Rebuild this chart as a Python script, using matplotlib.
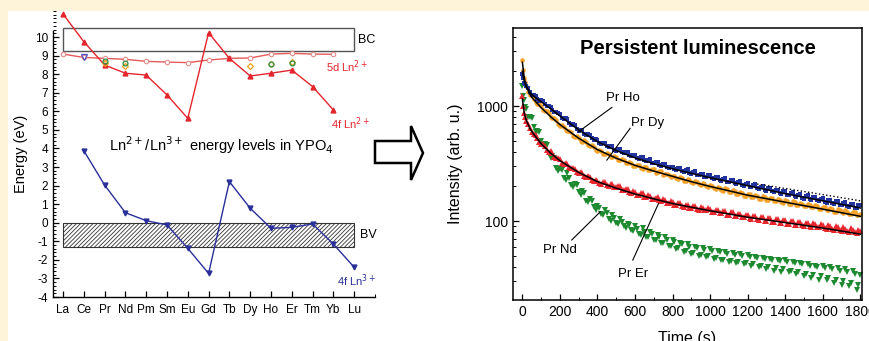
import matplotlib
matplotlib.use("Agg")
import matplotlib.pyplot as plt
from matplotlib.patches import Rectangle, Polygon
from matplotlib.ticker import MultipleLocator, FixedLocator, NullFormatter

plt.rcParams['font.family'] = ['Liberation Sans', 'DejaVu Sans']
plt.rcParams['hatch.linewidth'] = 0.6
plt.rcParams['axes.unicode_minus'] = False

## left panel: energy levels
elements = ['La', 'Ce', 'Pr', 'Nd', 'Pm', 'Sm', 'Eu', 'Gd', 'Tb', 'Dy', 'Ho', 'Er', 'Tm', 'Yb', 'Lu']
f4_ln2 = [11.24, 9.75, 8.49, 8.05, 7.95, 6.88, 5.62, 10.23, 8.85, 7.90, 8.05, 8.22, 7.33, 6.07]  # La..Yb
d5_ln2 = [9.08, 8.90, 8.85, 8.80, 8.69, 8.65, 8.62, 8.76, 8.85, 8.87, 9.08, 9.12, 9.08, 9.07]  # La..Yb
f4_ln3 = [3.88, 2.03, 0.54, 0.11, -0.12, -1.38, -2.73, 2.21, 0.78, -0.30, -0.25, -0.07, -1.15, -2.40]  # Ce..Lu
# extra experimental points near the 5d level
exp_green_x = [2, 3, 10, 11]
exp_green_y = [8.72, 8.62, 8.55, 8.62]
exp_orange_x = [2, 3, 9, 10, 11]
exp_orange_y = [8.62, 8.42, 8.45, 8.52, 8.64]
exp_ce_y = 8.92

## right panel: decay curves, two interleaved sweeps of read-off points
T = [0, 5, 10, 15, 20, 40, 60, 80, 100, 120, 140, 160, 180,
     200, 220, 240, 260, 280, 300, 320, 340, 360, 380,
     400, 420, 440, 460, 480, 500, 520, 540, 560, 580,
     600, 620, 640, 660, 680, 700, 720, 740, 760, 780,
     800, 820, 840, 860, 880, 900, 920, 940, 960, 980,
     1000, 1020, 1040, 1060, 1080, 1100, 1120, 1140, 1160, 1180,
     1200, 1220, 1240, 1260, 1280, 1300, 1320, 1340, 1360, 1380,
     1400, 1420, 1440, 1460, 1480, 1500, 1520, 1540, 1560, 1580,
     1600, 1620, 1640, 1660, 1680, 1700, 1720, 1740, 1760, 1780, 1800]
pr_ho = [1900, 1750, 1590, 1540, 1480, 1330, 1250, 1160, 1120, 1040, 1000, 915, 890,
         860, 770, 765, 690, 680, 610, 618, 560, 565, 505,
         510, 468, 482, 440, 452, 408, 425, 390, 398, 366,
         372, 348, 362, 333, 345, 318, 327, 300, 314, 290,
         298, 278, 289, 268, 281, 258, 270, 250, 258, 240,
         250, 232, 244, 225, 236, 217, 228, 210, 221, 203,
         213, 196, 208, 191, 200, 184, 195, 178, 188, 172,
         183, 167, 178, 162, 172, 157, 168, 152, 162, 149,
         158, 145, 154, 140, 150, 137, 146, 133, 141, 130, 137]
pr_dy = [2500, 2050, 1760, 1620, 1500, 1250, 1160, 1040, 995, 905, 870, 790, 750,
         675, 660, 605, 590, 540, 530, 490, 485, 448, 442,
         408, 405, 384, 380, 364, 358, 340, 338, 320, 320,
         300, 306, 286, 296, 280, 284, 268, 270, 256, 252,
         248, 236, 240, 225, 230, 218, 222, 208, 214, 200,
         204, 192, 198, 186, 192, 180, 186, 172, 180, 166,
         172, 161, 168, 156, 164, 152, 159, 149, 155, 146,
         151, 142, 148, 139, 145, 136, 140, 132, 137, 128,
         133, 124, 130, 121, 127, 119, 124, 115, 120, 112, 116]
pr_er = [1220, 1010, 870, 810, 740, 650, 570, 530, 465, 448, 402, 388, 350,
         345, 315, 312, 288, 286, 264, 262, 242, 240, 225,
         224, 211, 219, 203, 209, 196, 202, 186, 190, 177,
         180, 168, 174, 162, 166, 156, 161, 149, 153, 145,
         147, 137, 143, 133, 138, 130, 136, 126, 131, 124,
         128, 120, 125, 117, 122, 114, 119, 111, 116, 108,
         112, 105, 110, 103, 108, 101, 106, 99, 104, 97,
         102, 95, 100, 93, 98, 91, 96, 89, 94, 88,
         92, 86, 90, 84, 88, 82, 86, 80, 84, 79, 82]
pr_nd = [1480, 1230, 1120, 980, 940, 810, 660, 610, 500, 470, 380, 365, 290,
         285, 238, 262, 205, 208, 178, 181, 150, 155, 132,
         134, 115, 126, 104, 114, 96, 104, 90, 95, 84,
         90, 77, 87, 72, 80, 69, 76, 64, 72, 61,
         68, 57, 65, 54, 63, 52, 60, 50, 58, 49,
         57, 47, 55, 46, 54, 44, 53, 43, 52, 42,
         51, 41, 49, 40, 48, 38, 47, 37, 46, 36,
         46, 36, 44, 35, 43, 33, 42, 32, 41, 31,
         41, 31, 40, 29, 39, 28, 38, 27, 37, 25, 34]

T_b = [30, 50, 70, 90, 110, 130, 150, 170, 190, 210,
       230, 250, 270, 290, 310, 330, 350, 370, 390, 410,
       430, 450, 470, 490, 510, 530, 550, 570, 590, 610,
       630, 650, 670, 690, 710, 730, 750, 770, 790, 810,
       830, 850, 870, 890, 910, 930, 950, 970, 990, 1010,
       1030, 1050, 1070, 1090, 1110, 1130, 1150, 1170, 1190, 1210,
       1230, 1250, 1270, 1290, 1310, 1330, 1350, 1370, 1390, 1410,
       1430, 1450, 1470, 1490, 1510, 1530, 1550, 1570, 1590, 1610,
       1630, 1650, 1670, 1690, 1710, 1730, 1750, 1770, 1790]
pr_ho_b = [1430, 1250, 1220, 1110, 1100, 995, 975, 890, 870, 795,
           785, 715, 700, 630, 625, 575, 570, 525, 515, 478,
           480, 448, 450, 418, 422, 396, 398, 372, 376, 354,
           359, 338, 342, 322, 327, 308, 312, 294, 298, 281,
           287, 271, 277, 262, 267, 253, 258, 244, 250, 236,
           242, 228, 234, 220, 226, 213, 219, 206, 212, 199,
           205, 193, 199, 187, 192, 181, 186, 175, 181, 170,
           175, 165, 170, 160, 166, 155, 161, 151, 157, 147,
           153, 143, 150, 139, 145, 135, 141, 131, 138]
pr_dy_b = [1320, 1225, 1075, 1040, 925, 910, 810, 790, 695, 685,
           615, 612, 550, 550, 498, 502, 455, 456, 414, 418,
           384, 390, 360, 366, 338, 344, 320, 327, 304, 310,
           289, 296, 276, 283, 264, 270, 252, 257, 240, 246,
           230, 235, 221, 227, 213, 218, 204, 210, 197, 202,
           190, 195, 184, 189, 178, 183, 172, 177, 166, 171,
           161, 166, 157, 162, 153, 158, 149, 154, 145, 150,
           142, 146, 138, 142, 135, 138, 132, 135, 128, 132,
           125, 128, 121, 125, 118, 121, 115, 119, 112]
pr_er_b = [705, 590, 560, 485, 465, 415, 405, 360, 355, 322,
           320, 293, 292, 268, 268, 247, 248, 228, 229, 213,
           217, 204, 209, 196, 200, 187, 191, 178, 182, 170,
           174, 163, 167, 156, 160, 151, 155, 145, 148, 139,
           143, 135, 139, 131, 136, 128, 132, 124, 129, 121,
           125, 118, 122, 114, 119, 111, 115, 108, 113, 106,
           110, 104, 108, 101, 106, 99, 104, 97, 102, 95,
           101, 93, 99, 92, 97, 90, 96, 88, 94, 87,
           92, 85, 91, 84, 89, 82, 87, 80, 84]
pr_nd_b = [800, 790, 600, 600, 455, 460, 350, 350, 270, 280,
           228, 236, 196, 205, 170, 176, 146, 150, 126, 131,
           112, 118, 101, 107, 94, 99, 87, 93, 82, 86,
           76, 81, 72, 77, 68, 73, 64, 69, 61, 66,
           58, 63, 55, 60, 53, 58, 51, 56, 50, 55,
           48, 54, 46, 52, 45, 51, 44, 50, 43, 49,
           42, 48, 41, 47, 40, 46, 39, 45, 38, 44,
           37, 43, 36, 42, 35, 41, 34, 40, 33, 39,
           32, 38, 31, 37, 30, 36, 29, 35, 28]

# fitted curves (black)
fit_t = [0, 10, 20, 40, 60, 100, 150, 200, 300, 400, 500, 600, 700, 800, 900, 1000, 1200, 1400, 1600, 1800]
fit_ho = [2000, 1650, 1480, 1320, 1220, 1090, 950, 820, 620, 490, 410, 355, 315, 285, 260, 238, 203, 173, 150, 130]
fit_dy = [2400, 1750, 1500, 1260, 1140, 970, 810, 690, 525, 418, 352, 305, 272, 245, 220, 200, 168, 146, 127, 110]
fit_er = [1150, 870, 760, 640, 570, 470, 390, 335, 265, 220, 193, 172, 156, 142, 132, 123, 108, 97, 87, 77]
dot_t = [1250, 1400, 1600, 1800]
dot_i = [210, 192, 170, 150]

W, H = 869, 341
fig = plt.figure(figsize=(W / 100, H / 100), dpi=100, facecolor='#fdf4da')
fig.add_artist(Rectangle((8 / W, 0), 1, 1 - 11 / H, transform=fig.transFigure,
                         facecolor='white', edgecolor='none', zorder=-5))

red = '#e4252d'
blue = '#2a2f9a'

ax1 = fig.add_axes([53 / W, 1 - 297 / H, 322 / W, 286 / H])
ax1.patch.set_alpha(0)
ax1.set_xlim(-0.48, 15.0)
ax1.set_ylim(-4, 11.4)
for s in ['top', 'right']:
    ax1.spines[s].set_visible(False)
ax1.spines['left'].set_bounds(-4, 10.3)
ax1.spines['left'].set_linewidth(1.0)
ax1.spines['bottom'].set_linewidth(1.0)

ax1.add_patch(Rectangle((0, 9.25), 14, 1.25, fill=False, edgecolor='#555555', lw=1.0))
ax1.add_patch(Rectangle((0, -1.3), 14, 1.3, facecolor='white', edgecolor='#333333',
                        hatch='////////', lw=0.8))

ax1.plot(range(14), d5_ln2, '-', color='#e55a5a', lw=1.0, marker='o', ms=3.2,
         mfc='white', mec='#e88a8a', mew=0.8, clip_on=False)
ax1.plot(range(14), f4_ln2, '-', color=red, lw=1.0, marker='^', ms=3.5, clip_on=False)
ax1.plot(range(1, 15), f4_ln3, '-', color=blue, lw=1.0, marker='v', ms=3.5, clip_on=False)
ax1.plot([1], [exp_ce_y], 'v', ms=4.5, mfc='none', mec='#5050c0', mew=0.9)
ax1.plot(exp_orange_x, exp_orange_y, 'D', ms=3.0, mfc='none', mec='#f0a020', mew=0.9)
ax1.plot(exp_green_x, exp_green_y, 'o', ms=3.5, mfc='none', mec='#2a9040', mew=0.9)

ax1.set_xticks(range(15))
ax1.set_xticklabels(elements, fontsize=8.5)
ax1.xaxis.set_minor_locator(FixedLocator([15]))
ax1.yaxis.set_minor_locator(MultipleLocator(0.2))
ax1.set_yticks(range(-4, 11))
ax1.tick_params(axis='x', which='major', pad=5)
ax1.tick_params(axis='both', which='major', direction='in', length=4, width=0.9, labelsize=8.5)
ax1.tick_params(axis='both', which='minor', direction='in', length=2, width=0.7)
ax1.set_ylabel('Energy (eV)', fontsize=10.5, labelpad=5)

ax1.text(14.2, 9.85, 'BC', fontsize=9, va='center', ha='left')
ax1.text(14.3, -0.65, 'BV', fontsize=9, va='center', ha='left')
ax1.text(12.65, 8.4, r'5d Ln$^{2+}$', fontsize=8, color=red, va='center', ha='left')
ax1.text(12.9, 5.35, r'4f Ln$^{2+}$', fontsize=8, color=red, va='center', ha='left')
ax1.text(13.15, -3.1, r'4f Ln$^{3+}$', fontsize=8, color=blue, va='center', ha='left')
ax1.text(7.6, 4.2, r'Ln$^{2+}$/Ln$^{3+}$ energy levels in YPO$_4$', fontsize=10.5,
         va='center', ha='center')

# hollow arrow between panels (pixel coords -> figure fraction)
arrow_px = [(375, 141), (411, 141), (411, 126), (423, 153), (411, 180), (411, 163), (375, 163)]
fig.add_artist(Polygon([(x / W, 1 - y / H) for x, y in arrow_px], closed=True,
                       transform=fig.transFigure, facecolor='white', edgecolor='black', lw=1.8))

## right panel
ax2 = fig.add_axes([513 / W, 1 - 300 / H, 349 / W, 272 / H])
ax2.set_yscale('log')
ax2.set_xlim(-50, 1809)
ax2.set_ylim(20.6, 4770)
ms = 3.8
for tt, yy, yb, mk, col, size in [(T, pr_nd, pr_nd_b, 'v', '#1d8a30', ms),
                                  (T, pr_er, pr_er_b, '^', '#e8262e', ms),
                                  (T, pr_dy, pr_dy_b, 'o', '#f4a32a', ms - 0.5),
                                  (T, pr_ho, pr_ho_b, 's', '#22339e', ms - 0.7)]:
    ax2.plot(tt, yy, mk, color=col, ms=size, mew=0)
    ax2.plot(T_b, yb, mk, color=col, ms=size, mew=0)
ax2.plot(fit_t, fit_ho, '-', color='black', lw=1.1)
ax2.plot(fit_t, fit_dy, '-', color='black', lw=1.1)
ax2.plot(fit_t, fit_er, '-', color='black', lw=1.1)
ax2.plot(dot_t, dot_i, ':', color='black', lw=1.0)

ax2.set_xticks(range(0, 1801, 200))
ax2.xaxis.set_minor_locator(MultipleLocator(100))
ax2.set_yticks([100, 1000])
ax2.set_yticklabels(['100', '1000'])
ax2.yaxis.set_minor_formatter(NullFormatter())
ax2.tick_params(axis='both', which='major', direction='in', length=4, width=0.9, labelsize=10)
ax2.tick_params(axis='both', which='minor', direction='in', length=2, width=0.7)
for s in ax2.spines.values():
    s.set_linewidth(1.1)
ax2.set_xlabel('Time (s)', fontsize=11.5, labelpad=9)
ax2.set_ylabel('Intensity (arb. u.)', fontsize=11.5, labelpad=10)
ax2.text(0.53, 0.925, 'Persistent luminescence', transform=ax2.transAxes, fontsize=14.5,
         fontweight='bold', ha='center', va='center')

ax2.text(537, 1174, 'Pr Ho', fontsize=9.5, ha='center', va='center')
ax2.plot([477, 299], [974, 598], '-', color='black', lw=0.8)
ax2.text(666, 716, 'Pr Dy', fontsize=9.5, ha='center', va='center')
ax2.plot([574, 450], [640, 339], '-', color='black', lw=0.8)
ax2.text(201, 56, 'Pr Nd', fontsize=9.5, ha='center', va='center')
ax2.plot([263, 414], [68.5, 120], '-', color='black', lw=0.8)
ax2.text(592, 35, 'Pr Er', fontsize=9.5, ha='center', va='center')
ax2.plot([588, 725], [45.8, 142], '-', color='black', lw=0.8)

fig.savefig('out.png', dpi=100, facecolor=fig.get_facecolor())
